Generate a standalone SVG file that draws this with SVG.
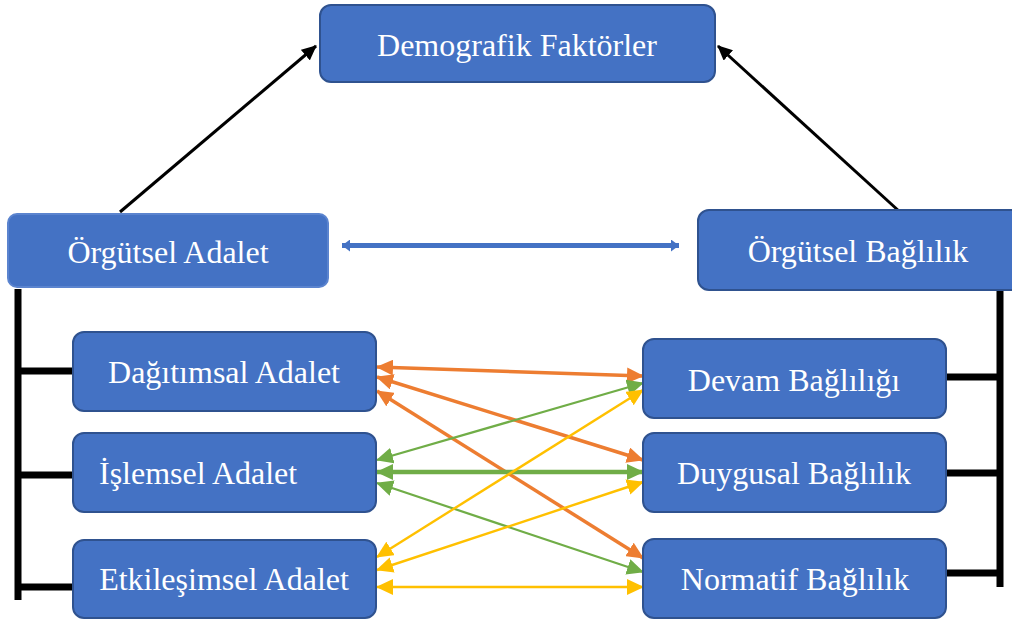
<svg xmlns="http://www.w3.org/2000/svg" width="1012" height="624" viewBox="0 0 1012 624">
<style>
.box{fill:#4472C4;stroke:#2F528F;stroke-width:2}
.t{font-family:"Liberation Serif","Times New Roman",serif;font-size:32px;fill:#FFFFFF}
.c{text-anchor:middle}
.or{stroke:#ED7D31;stroke-width:3.5;fill:none}
.gr{stroke:#70AD47;stroke-width:2.2;fill:none}
.ye{stroke:#FFC000;stroke-width:2.4;fill:none}
.bk{stroke:#000000;stroke-width:3;fill:none}
.br{stroke:#000000;stroke-width:7;fill:none}
</style>
<defs>
<marker id="mo" markerUnits="userSpaceOnUse" markerWidth="18" markerHeight="16" refX="16" refY="8" orient="auto-start-reverse"><path d="M0,0 L17,8 L0,16 Z" fill="#ED7D31"/></marker>
<marker id="mg" markerUnits="userSpaceOnUse" markerWidth="18" markerHeight="16" refX="16" refY="8" orient="auto-start-reverse"><path d="M0,0 L17,8 L0,16 Z" fill="#70AD47"/></marker>
<marker id="my" markerUnits="userSpaceOnUse" markerWidth="18" markerHeight="16" refX="16" refY="8" orient="auto-start-reverse"><path d="M0,0 L17,8 L0,16 Z" fill="#FFC000"/></marker>
<marker id="mk" markerUnits="userSpaceOnUse" markerWidth="16" markerHeight="14" refX="14" refY="7" orient="auto"><path d="M0,0 L15,7 L0,14 Z" fill="#000000"/></marker>
<marker id="mb" markerUnits="userSpaceOnUse" markerWidth="10" markerHeight="12" refX="8" refY="6" orient="auto-start-reverse"><path d="M0,0 L8,6 L0,12 Z" fill="#4472C4"/></marker>
</defs>

<g id="connectors">
<line class="bk" x1="120" y1="212" x2="316" y2="46" marker-end="url(#mk)"/>
<line class="bk" x1="900" y1="212" x2="718" y2="46" marker-end="url(#mk)"/>
<line x1="342" y1="245.5" x2="679" y2="245.5" stroke="#4472C4" stroke-width="5" marker-start="url(#mb)" marker-end="url(#mb)"/>
<polyline class="br" points="18,289 18,600"/>
<line class="br" x1="18" y1="371" x2="73" y2="371"/>
<line class="br" x1="18" y1="475" x2="73" y2="475"/>
<line class="br" x1="18" y1="587" x2="73" y2="587"/>
<polyline class="br" points="1000,290 1000,587"/>
<line class="br" x1="946" y1="377" x2="1000" y2="377"/>
<line class="br" x1="946" y1="473" x2="1000" y2="473"/>
<line class="br" x1="946" y1="573" x2="1000" y2="573"/>
<line class="or" x1="377" y1="367" x2="643" y2="376" marker-start="url(#mo)" marker-end="url(#mo)"/>
<line class="or" x1="377" y1="377" x2="643" y2="460" marker-start="url(#mo)" marker-end="url(#mo)"/>
<line class="or" x1="377" y1="391" x2="643" y2="558" marker-start="url(#mo)" marker-end="url(#mo)"/>
<line class="gr" x1="377" y1="460" x2="643" y2="383" marker-start="url(#mg)" marker-end="url(#mg)"/>
<line class="gr" x1="377" y1="472" x2="643" y2="472" style="stroke-width:4.5" marker-start="url(#mg)" marker-end="url(#mg)"/>
<line class="gr" x1="377" y1="483" x2="643" y2="572" marker-start="url(#mg)" marker-end="url(#mg)"/>
<line class="ye" x1="377" y1="557" x2="643" y2="390" marker-start="url(#my)" marker-end="url(#my)"/>
<line class="ye" x1="377" y1="570" x2="643" y2="482" marker-start="url(#my)" marker-end="url(#my)"/>
<line class="ye" x1="377" y1="587" x2="643" y2="587" marker-start="url(#my)" marker-end="url(#my)"/>
</g>

<g id="demografik">
<rect class="box" x="320" y="5" width="395" height="77" rx="11"/>
<text class="t c" x="517" y="56">Demografik Faktörler</text>
</g>
<g id="orgutsel-adalet">
<rect class="box" x="8" y="214" width="320" height="73" rx="9" style="stroke:#5B84CF"/>
<text class="t c" x="168" y="263">Örgütsel Adalet</text>
</g>
<g id="orgutsel-baglilik">
<rect class="box" x="698" y="210" width="330" height="80" rx="11"/>
<text class="t c" x="858" y="262">Örgütsel Bağlılık</text>
</g>
<g id="dagitimsal">
<rect class="box" x="73" y="332" width="303" height="79" rx="11"/>
<text class="t c" x="224" y="383">Dağıtımsal Adalet</text>
</g>
<g id="islemsel">
<rect class="box" x="73" y="433" width="303" height="79" rx="11"/>
<text class="t" x="99" y="484">İşlemsel Adalet</text>
</g>
<g id="etkilesimsel">
<rect class="box" x="73" y="540" width="303" height="78" rx="11"/>
<text class="t c" x="224" y="590">Etkileşimsel Adalet</text>
</g>
<g id="devam">
<rect class="box" x="643" y="339" width="303" height="79" rx="11"/>
<text class="t c" x="794" y="391">Devam Bağlılığı</text>
</g>
<g id="duygusal">
<rect class="box" x="643" y="433" width="303" height="79" rx="11"/>
<text class="t c" x="794" y="484">Duygusal Bağlılık</text>
</g>
<g id="normatif">
<rect class="box" x="643" y="539" width="303" height="79" rx="11"/>
<text class="t c" x="795" y="590">Normatif Bağlılık</text>
</g>
</svg>
